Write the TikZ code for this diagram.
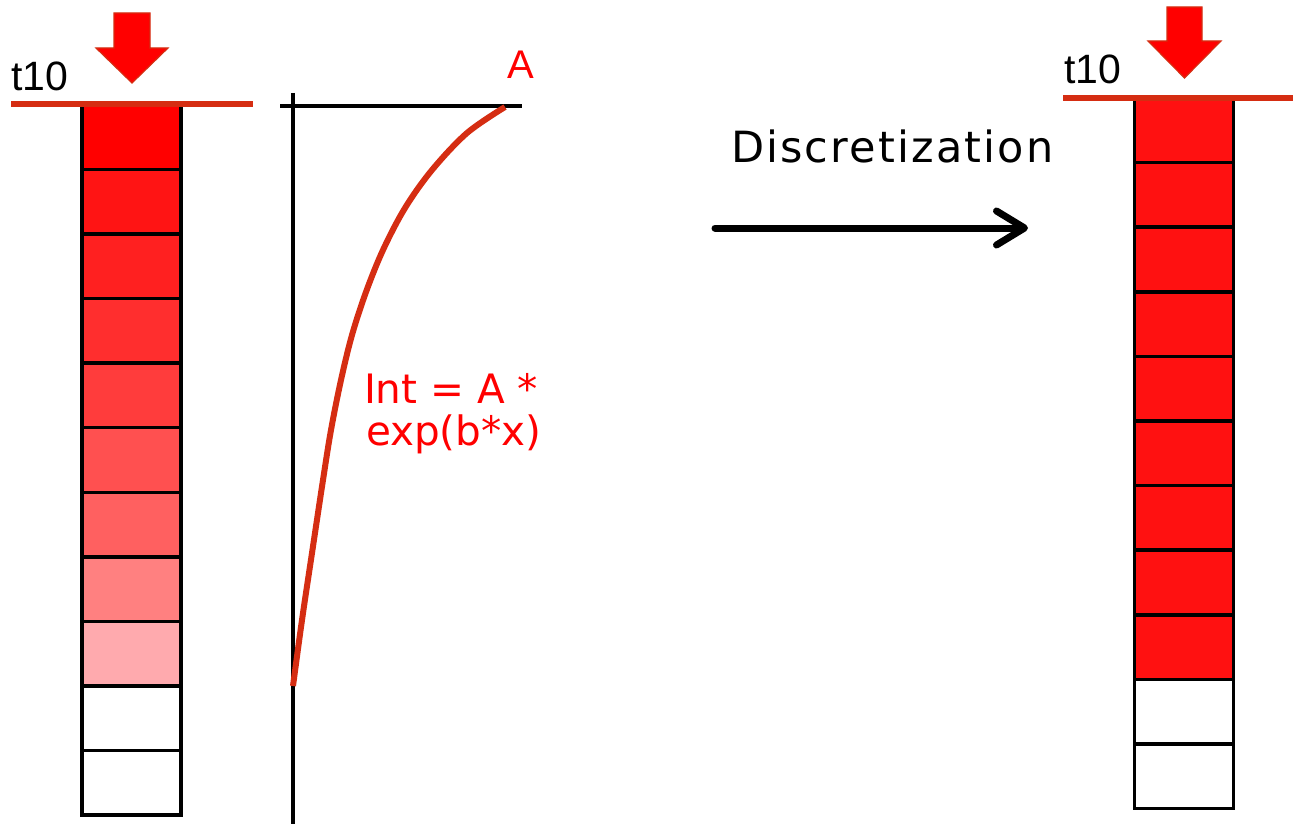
\documentclass[tikz,border=0pt]{standalone}
\usepackage{fontspec}
\setmainfont{Liberation Sans}
\newfontfamily\dvs{DejaVu Sans}
\newfontfamily\dvsl[LetterSpace=5]{DejaVu Sans}
\usetikzlibrary{arrows.meta}
\definecolor{lred}{RGB}{213,45,18}
\definecolor{textred}{RGB}{255,0,0}
\definecolor{cA}{HTML}{FF0000}
\definecolor{cB}{HTML}{FF1414}
\definecolor{cC}{HTML}{FF2020}
\definecolor{cD}{HTML}{FF2E2E}
\definecolor{cE}{HTML}{FF3C3C}
\definecolor{cF}{HTML}{FF5050}
\definecolor{cG}{HTML}{FF6060}
\definecolor{cH}{HTML}{FF8080}
\definecolor{cI}{HTML}{FFAAAE}
\definecolor{cR}{HTML}{FF1111}
\begin{document}
\begin{tikzpicture}[x=1pt,y=-1pt,
  cell/.style={draw=black,line width=3.5pt,minimum width=99pt,minimum height=64.6pt,inner sep=0pt,outer sep=0pt},
  redline/.style={draw=lred,line width=6pt},
  axis/.style={draw=black,line width=3.5pt},
  blockarrow/.style={fill=red,draw=lred,line width=1.2pt,line join=miter},
  biglabel/.style={inner sep=0pt,outer sep=0pt,anchor=base west,font=\fontsize{41}{48}\selectfont}
]
\useasboundingbox[fill=white] (0,0) rectangle (1293,824);

% left column
\foreach \c [count=\i] in {cA,cB,cC,cD,cE,cF,cG,cH,cI,white,white}
  \node[cell,fill=\c] (L\i) at (131.5,{105+64.55*(\i-0.5)}) {};
% right column
\foreach \c [count=\i] in {cR,cR,cR,cR,cR,cR,cR,cR,cR,white,white}
  \node[cell,fill=\c] (R\i) at (1184,{98+64.6*(\i-0.5)}) {};

% red surface lines
\draw[redline] (11,104) -- (253,104);
\draw[redline] (1063,98.5) -- (1293,98.5);

% block arrows
\filldraw[blockarrow] (114,13) -- (150,13) -- (150,48) -- (168,48) -- (132,83) -- (96,48) -- (114,48) -- cycle;
\filldraw[blockarrow] (1167,7) -- (1202,7) -- (1202,41) -- (1221,41) -- (1184.5,78) -- (1148,41) -- (1167,41) -- cycle;

% labels t10
\node[biglabel] (t10L) at (11,91) {t10};
\node[biglabel] (t10R) at (1064,84) {t10};

% axes
\coordinate (ytop) at (293,93);
\coordinate (ybot) at (293,824);
\coordinate (xl) at (280,106);
\coordinate (xr) at (522,106);
\draw[axis] (ytop) -- (ybot);
\draw[axis] (xl) -- (xr);

% curve
\draw[lred,line width=6pt] plot[smooth,tension=0.55] coordinates {(505,107) (467,133) (432,170) (405,208) (383,250) (366,292) (352,335) (341,380) (331,430) (323,480) (312,553) (302,620) (293,686)};

\node[biglabel,text=textred,font=\fontsize{40}{48}\selectfont] (Alab) at (507,79) {A};
\node[biglabel,text=textred,font=\dvs\fontsize{40.5}{48}\selectfont] (int1) at (364,403) {Int = A *};
\node[biglabel,text=textred,font=\dvs\fontsize{40.5}{48}\selectfont] (int2) at (366,445) {exp(b*x)};

% discretization
\node[biglabel,font=\dvsl\fontsize{43}{48}\selectfont] (disc) at (731,163) {Discretization};
\coordinate (as) at (715,228);
\coordinate (ae) at (1028,228);
\draw[line width=7pt,line cap=round,-{Straight Barb[length=28pt,width=34pt,line cap=round,line join=round]}] (as) -- (ae);
\end{tikzpicture}
\end{document}
